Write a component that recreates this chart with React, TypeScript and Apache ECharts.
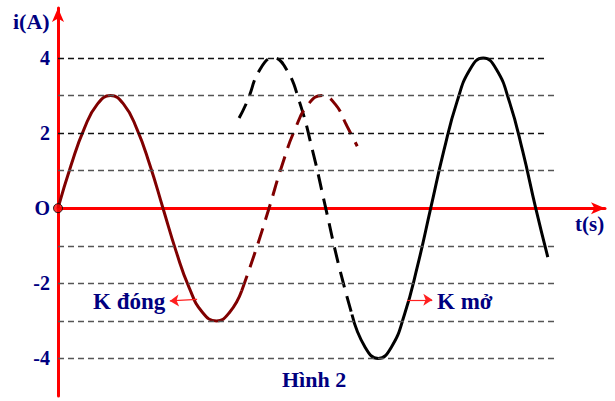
import React, { useEffect, useRef } from "react";
import * as echarts from "echarts";

const redSolid: number[][] = [
  [0, 0], [0.25, 1.15], [0.5, 2.12], [0.75, 2.77], [1, 3], [1.25, 2.77], [1.5, 2.12], [1.75, 1.15],
  [2, 0], [2.25, -1.15], [2.5, -2.12], [2.75, -2.77], [3.02, -3], [3.27, -2.77], [3.5, -2.2],
];
const redDashed: number[][] = [
  [3.5, -2.2], [3.76, -1.15], [4.02, 0], [4.27, 1.15], [4.52, 2.12], [4.77, 2.77], [5.03, 3],
  [5.28, 2.77], [5.5, 2.2], [5.7, 1.65],
];
const blackDashed: number[][] = [
  [3.45, 2.4], [3.6, 2.83], [3.85, 3.7], [4.1, 4], [4.35, 3.7], [4.6, 2.83], [4.85, 1.53],
  [5.1, 0], [5.35, -1.53], [5.6, -2.83],
];
const blackSolid: number[][] = [
  [5.6, -2.83], [5.85, -3.7], [6.1, -4], [6.35, -3.7], [6.6, -2.83], [6.85, -1.53], [7.1, 0],
  [7.35, 1.53], [7.6, 2.83], [7.85, 3.7], [8.1, 4], [8.35, 3.7], [8.6, 2.83], [8.85, 1.53],
  [9.1, 0], [9.33, -1.3],
];
const gridValues: number[] = [4, 3, 2, 1, -1, -2, -3, -4];
const darkGridValues: number[] = [4, 2];
const tickLabels: Record<number, string> = { 4: "4", 2: "2", 0: "O", [-2]: "-2", [-4]: "-4" };
const kDongArrow: number[][] = [[2.65, -2.43], [2.13, -2.47]];
const kMoArrow: number[][] = [[6.65, -2.44], [7.13, -2.44]];

const NAVY = "#000080";
const FONT = '"Liberation Serif", "Times New Roman", serif';

export default function App() {
  const ref = useRef<HTMLDivElement>(null);
  useEffect(() => {
    if (!ref.current) return;
    const chart = echarts.init(ref.current, undefined, { renderer: "svg" });
    const gridLines = gridValues.map((v) => {
      const dark = darkGridValues.includes(v);
      return [
        { coord: [0, v], lineStyle: { color: dark ? "#111" : "#555", type: [6, 4], width: 1.4 } },
        { coord: [dark ? 9.33 : 9.52, v] },
      ];
    });
    const arrowLine = (pts: number[][]) => [{ coord: pts[0] }, { coord: pts[1] }];
    const curve = (data: number[][], color: string, dashed: boolean, z: number) => ({
      type: "line",
      data,
      smooth: 0.5,
      showSymbol: false,
      silent: true,
      lineStyle: { color, width: 3, type: dashed ? [16, 9] : "solid", cap: "butt" },
      z,
    });
    chart.setOption({
      animation: false,
      grid: { left: 58, right: 10, top: 8, bottom: 5 },
      xAxis: {
        type: "value",
        min: 0,
        max: 10.42,
        axisLine: { show: true, onZero: true, lineStyle: { color: "#ff0000", width: 3 }, symbol: ["none", "arrow"], symbolSize: [9, 14] },
        axisTick: { show: false },
        axisLabel: { show: false },
        splitLine: { show: false },
      },
      yAxis: {
        type: "value",
        min: -5,
        max: 5.33,
        interval: 1,
        axisLine: { show: true, onZero: false, lineStyle: { color: "#ff0000", width: 3 }, symbol: ["none", "arrow"], symbolSize: [9, 14] },
        axisTick: { show: false },
        splitLine: { show: false },
        axisLabel: {
          margin: 8,
          color: NAVY,
          fontSize: 20,
          fontWeight: "bold",
          fontFamily: FONT,
          showMaxLabel: false,
          formatter: (v: number) => tickLabels[Math.round(v)] ?? "",
        },
      },
      series: [
        {
          type: "line",
          data: [],
          silent: true,
          markLine: { silent: true, symbol: "none", label: { show: false }, data: gridLines },
        },
        curve(blackDashed, "#000", true, 3),
        curve(blackSolid, "#000", false, 3),
        curve(redDashed, "#800000", true, 4),
        curve(redSolid, "#800000", false, 4),
        {
          type: "line",
          data: [],
          silent: true,
          markLine: {
            silent: true,
            symbol: ["none", "arrow"],
            symbolSize: 9,
            label: { show: false },
            lineStyle: { color: "#ff2020", width: 1.2, type: "solid" },
            data: [arrowLine(kDongArrow), arrowLine(kMoArrow)],
          },
        },
        {
          type: "scatter",
          data: [[0, 0]],
          symbolSize: 9,
          itemStyle: { color: "#ff0000", borderColor: "#000", borderWidth: 1 },
          z: 10,
        },
      ],
      graphic: [
        { type: "text", left: 13, top: 10, style: { text: "i(A)", font: `bold 22px ${FONT}`, fill: NAVY } },
        { type: "text", left: 575, top: 213, style: { text: "t(s)", font: `bold 21px ${FONT}`, fill: NAVY } },
        { type: "text", left: 93, top: 290, style: { text: "K đóng", font: `bold 23px ${FONT}`, fill: NAVY } },
        { type: "text", left: 437, top: 290, style: { text: "K mở", font: `bold 23px ${FONT}`, fill: NAVY } },
        { type: "text", left: 282, top: 368, style: { text: "Hình 2", font: `bold 22px ${FONT}`, fill: NAVY } },
      ],
    });
    return () => chart.dispose();
  }, []);
  return <div ref={ref} style={{ width: 615, height: 401, position: "absolute", left: 0, top: 0 }} />;
}
